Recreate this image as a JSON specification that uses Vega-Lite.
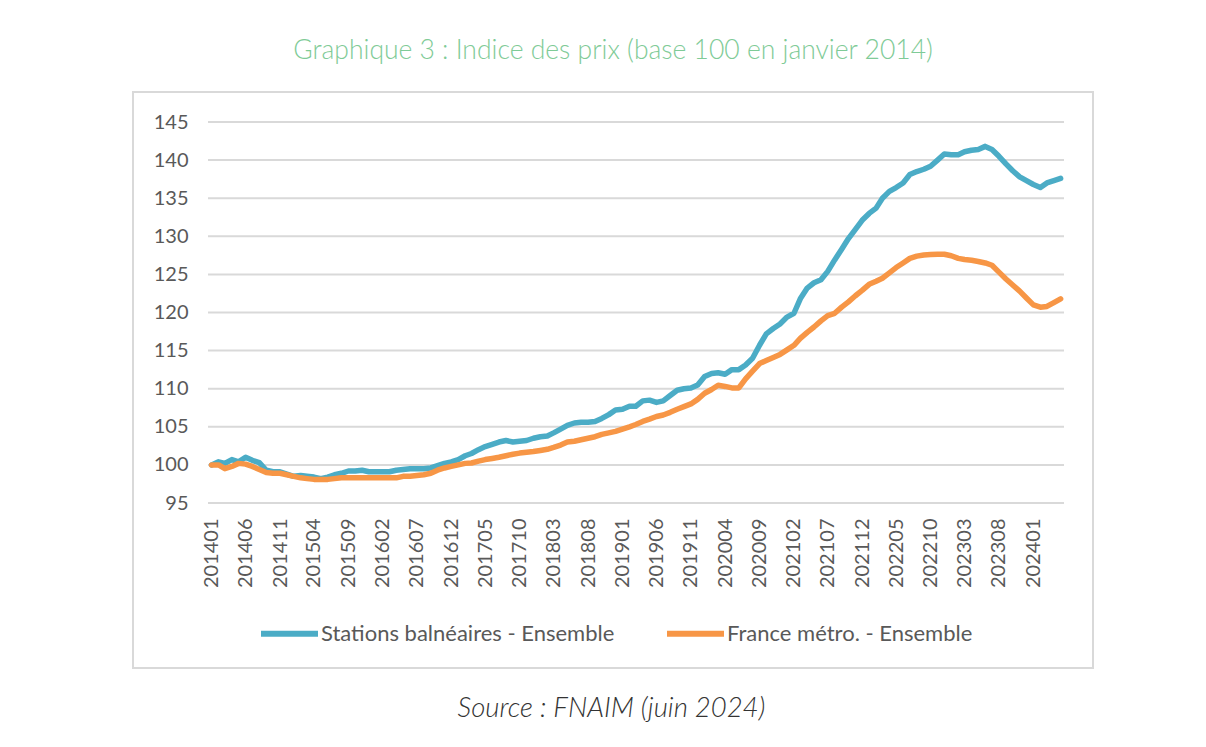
{
  "$schema": "https://vega.github.io/schema/vega-lite/v6.json",
  "autosize": {"type": "none"},
  "padding": {"left": 133, "top": 92, "right": 113, "bottom": 79},
  "width": 960,
  "height": 576,
  "background": "white",
  "config": {
    "view": {"stroke": "#d9d9d9", "strokeWidth": 2},
    "font": "Lato",
    "axis": {"labelOverlap": false}
  },
  "title": {
    "text": "Graphique 3 : Indice des prix (base 100 en janvier 2014)",
    "font": "Lato",
    "fontSize": 26.5,
    "fontWeight": 300,
    "color": "#7fcb97",
    "anchor": "middle",
    "frame": "group",
    "offset": 28
  },
  "layer": [
    {
      "data": {"values": [{"v": 95}, {"v": 100}, {"v": 105}, {"v": 110}, {"v": 115}, {"v": 120}, {"v": 125}, {"v": 130}, {"v": 135}, {"v": 140}, {"v": 145}]},
      "mark": {"type": "rule", "color": "#d9d9d9", "strokeWidth": 2},
      "encoding": {
        "y": {
          "field": "v",
          "type": "quantitative",
          "scale": {"domain": [95, 145], "range": [411, 30], "zero": false, "nice": false},
          "axis": {
            "values": [95, 100, 105, 110, 115, 120, 125, 130, 135, 140, 145],
            "tickCount": 50,
            "offset": -75,
            "domain": false,
            "ticks": false,
            "grid": false,
            "labelPadding": 20,
            "labelFont": "Lato",
            "labelFontSize": 20,
            "labelColor": "#595959",
            "labelOverlap": false,
            "labelFlush": false,
            "title": null
          }
        },
        "x": {
          "datum": {"year": 2013, "month": 12, "date": 16},
          "type": "temporal",
          "scale": {"domain": [{"year": 2013, "month": 12, "date": 16}, {"year": 2024, "month": 5, "date": 16}], "range": [75, 931], "nice": false}
        },
        "x2": {"datum": {"year": 2024, "month": 5, "date": 16}}
      }
    },
    {
      "data": {
        "format": {"parse": {"mois": "date:'%Y%m'"}},
        "values": [
          {"mois": "201401", "stations": 100.0, "france": 100.0},
          {"mois": "201402", "stations": 100.4, "france": 100.0},
          {"mois": "201403", "stations": 100.2, "france": 99.5},
          {"mois": "201404", "stations": 100.7, "france": 99.8},
          {"mois": "201405", "stations": 100.4, "france": 100.2},
          {"mois": "201406", "stations": 101.0, "france": 100.1},
          {"mois": "201407", "stations": 100.6, "france": 99.8},
          {"mois": "201408", "stations": 100.3, "france": 99.4},
          {"mois": "201409", "stations": 99.3, "france": 99.0},
          {"mois": "201410", "stations": 99.1, "france": 98.9},
          {"mois": "201411", "stations": 99.1, "france": 98.9},
          {"mois": "201412", "stations": 98.8, "france": 98.7},
          {"mois": "201501", "stations": 98.5, "france": 98.5},
          {"mois": "201502", "stations": 98.6, "france": 98.3},
          {"mois": "201503", "stations": 98.5, "france": 98.2},
          {"mois": "201504", "stations": 98.4, "france": 98.1},
          {"mois": "201505", "stations": 98.2, "france": 98.1},
          {"mois": "201506", "stations": 98.4, "france": 98.1},
          {"mois": "201507", "stations": 98.7, "france": 98.2},
          {"mois": "201508", "stations": 98.9, "france": 98.3},
          {"mois": "201509", "stations": 99.2, "france": 98.3},
          {"mois": "201510", "stations": 99.2, "france": 98.3},
          {"mois": "201511", "stations": 99.3, "france": 98.3},
          {"mois": "201512", "stations": 99.1, "france": 98.3},
          {"mois": "201601", "stations": 99.1, "france": 98.3},
          {"mois": "201602", "stations": 99.1, "france": 98.3},
          {"mois": "201603", "stations": 99.1, "france": 98.3},
          {"mois": "201604", "stations": 99.3, "france": 98.3},
          {"mois": "201605", "stations": 99.4, "france": 98.5},
          {"mois": "201606", "stations": 99.5, "france": 98.5},
          {"mois": "201607", "stations": 99.5, "france": 98.6},
          {"mois": "201608", "stations": 99.5, "france": 98.7},
          {"mois": "201609", "stations": 99.6, "france": 98.9},
          {"mois": "201610", "stations": 99.9, "france": 99.3},
          {"mois": "201611", "stations": 100.2, "france": 99.6},
          {"mois": "201612", "stations": 100.4, "france": 99.8},
          {"mois": "201701", "stations": 100.7, "france": 100.0},
          {"mois": "201702", "stations": 101.2, "france": 100.2},
          {"mois": "201703", "stations": 101.5, "france": 100.25},
          {"mois": "201704", "stations": 102.0, "france": 100.5},
          {"mois": "201705", "stations": 102.4, "france": 100.7},
          {"mois": "201706", "stations": 102.7, "france": 100.85},
          {"mois": "201707", "stations": 103.0, "france": 101.0},
          {"mois": "201708", "stations": 103.2, "france": 101.2},
          {"mois": "201709", "stations": 103.0, "france": 101.4},
          {"mois": "201710", "stations": 103.1, "france": 101.55},
          {"mois": "201711", "stations": 103.2, "france": 101.65},
          {"mois": "201712", "stations": 103.5, "france": 101.75},
          {"mois": "201801", "stations": 103.7, "france": 101.9},
          {"mois": "201802", "stations": 103.8, "france": 102.05},
          {"mois": "201803", "stations": 104.2, "france": 102.3},
          {"mois": "201804", "stations": 104.7, "france": 102.6},
          {"mois": "201805", "stations": 105.2, "france": 103.0},
          {"mois": "201806", "stations": 105.5, "france": 103.1},
          {"mois": "201807", "stations": 105.6, "france": 103.3},
          {"mois": "201808", "stations": 105.6, "france": 103.5},
          {"mois": "201809", "stations": 105.7, "france": 103.7},
          {"mois": "201810", "stations": 106.1, "france": 104.0},
          {"mois": "201811", "stations": 106.6, "france": 104.2},
          {"mois": "201812", "stations": 107.2, "france": 104.4},
          {"mois": "201901", "stations": 107.3, "france": 104.7},
          {"mois": "201902", "stations": 107.7, "france": 105.0},
          {"mois": "201903", "stations": 107.7, "france": 105.3},
          {"mois": "201904", "stations": 108.4, "france": 105.7},
          {"mois": "201905", "stations": 108.5, "france": 106.0},
          {"mois": "201906", "stations": 108.2, "france": 106.35},
          {"mois": "201907", "stations": 108.4, "france": 106.55},
          {"mois": "201908", "stations": 109.1, "france": 106.9},
          {"mois": "201909", "stations": 109.8, "france": 107.3},
          {"mois": "201910", "stations": 110.0, "france": 107.65},
          {"mois": "201911", "stations": 110.1, "france": 108.0},
          {"mois": "201912", "stations": 110.5, "france": 108.6},
          {"mois": "202001", "stations": 111.6, "france": 109.4},
          {"mois": "202002", "stations": 112.0, "france": 109.9},
          {"mois": "202003", "stations": 112.1, "france": 110.45},
          {"mois": "202004", "stations": 111.9, "france": 110.3},
          {"mois": "202005", "stations": 112.5, "france": 110.1},
          {"mois": "202006", "stations": 112.5, "france": 110.1},
          {"mois": "202007", "stations": 113.1, "france": 111.3},
          {"mois": "202008", "stations": 114.0, "france": 112.3},
          {"mois": "202009", "stations": 115.7, "france": 113.3},
          {"mois": "202010", "stations": 117.2, "france": 113.7},
          {"mois": "202011", "stations": 117.9, "france": 114.1},
          {"mois": "202012", "stations": 118.5, "france": 114.5},
          {"mois": "202101", "stations": 119.4, "france": 115.1},
          {"mois": "202102", "stations": 119.9, "france": 115.7},
          {"mois": "202103", "stations": 121.8, "france": 116.6},
          {"mois": "202104", "stations": 123.2, "france": 117.4},
          {"mois": "202105", "stations": 123.9, "france": 118.1},
          {"mois": "202106", "stations": 124.3, "france": 118.9},
          {"mois": "202107", "stations": 125.4, "france": 119.6},
          {"mois": "202108", "stations": 126.9, "france": 119.9},
          {"mois": "202109", "stations": 128.3, "france": 120.7},
          {"mois": "202110", "stations": 129.7, "france": 121.4},
          {"mois": "202111", "stations": 130.9, "france": 122.2},
          {"mois": "202112", "stations": 132.1, "france": 122.9},
          {"mois": "202201", "stations": 133.0, "france": 123.7},
          {"mois": "202202", "stations": 133.7, "france": 124.1},
          {"mois": "202203", "stations": 135.0, "france": 124.5},
          {"mois": "202204", "stations": 135.9, "france": 125.2},
          {"mois": "202205", "stations": 136.4, "france": 125.9},
          {"mois": "202206", "stations": 137.0, "france": 126.5},
          {"mois": "202207", "stations": 138.1, "france": 127.1},
          {"mois": "202208", "stations": 138.5, "france": 127.4},
          {"mois": "202209", "stations": 138.8, "france": 127.55},
          {"mois": "202210", "stations": 139.2, "france": 127.6},
          {"mois": "202211", "stations": 140.0, "france": 127.65},
          {"mois": "202212", "stations": 140.8, "france": 127.65},
          {"mois": "202301", "stations": 140.7, "france": 127.45},
          {"mois": "202302", "stations": 140.7, "france": 127.1},
          {"mois": "202303", "stations": 141.1, "france": 126.95},
          {"mois": "202304", "stations": 141.3, "france": 126.85},
          {"mois": "202305", "stations": 141.4, "france": 126.7},
          {"mois": "202306", "stations": 141.8, "france": 126.5},
          {"mois": "202307", "stations": 141.4, "france": 126.2},
          {"mois": "202308", "stations": 140.5, "france": 125.3},
          {"mois": "202309", "stations": 139.5, "france": 124.4},
          {"mois": "202310", "stations": 138.6, "france": 123.6},
          {"mois": "202311", "stations": 137.8, "france": 122.8},
          {"mois": "202312", "stations": 137.3, "france": 121.9},
          {"mois": "202401", "stations": 136.8, "france": 121.0},
          {"mois": "202402", "stations": 136.4, "france": 120.7},
          {"mois": "202403", "stations": 137.0, "france": 120.8},
          {"mois": "202404", "stations": 137.3, "france": 121.3},
          {"mois": "202405", "stations": 137.6, "france": 121.8}
        ]
      },
      "transform": [{"fold": ["stations", "france"], "as": ["serie", "indice"]}],
      "mark": {"type": "line", "strokeWidth": 5.5, "strokeCap": "round", "strokeJoin": "round"},
      "encoding": {
        "x": {
          "field": "mois",
          "type": "temporal",
          "axis": {
            "values": [
              {"year": 2014, "month": 1}, {"year": 2014, "month": 6}, {"year": 2014, "month": 11},
              {"year": 2015, "month": 4}, {"year": 2015, "month": 9}, {"year": 2016, "month": 2},
              {"year": 2016, "month": 7}, {"year": 2016, "month": 12}, {"year": 2017, "month": 5},
              {"year": 2017, "month": 10}, {"year": 2018, "month": 3}, {"year": 2018, "month": 8},
              {"year": 2019, "month": 1}, {"year": 2019, "month": 6}, {"year": 2019, "month": 11},
              {"year": 2020, "month": 4}, {"year": 2020, "month": 9}, {"year": 2021, "month": 2},
              {"year": 2021, "month": 7}, {"year": 2021, "month": 12}, {"year": 2022, "month": 5},
              {"year": 2022, "month": 10}, {"year": 2023, "month": 3}, {"year": 2023, "month": 8},
              {"year": 2024, "month": 1}
            ],
            "tickCount": 60,
            "format": "%Y%m",
            "offset": -165,
            "domain": false,
            "ticks": false,
            "grid": false,
            "labelAngle": -90,
            "labelAlign": "right",
            "labelBaseline": "middle",
            "labelPadding": 15,
            "labelFont": "Lato",
            "labelFontSize": 20,
            "labelColor": "#595959",
            "labelOverlap": false,
            "labelFlush": false,
            "title": "Source : FNAIM (juin 2024)",
            "titleFont": "Lato",
            "titleFontSize": 27.5,
            "titleFontWeight": 300,
            "titleFontStyle": "italic",
            "titleColor": "#333333",
            "titleX": 478,
            "titleY": 205,
            "titleAlign": "center",
            "titleBaseline": "middle"
          }
        },
        "y": {"field": "indice", "type": "quantitative"},
        "color": {
          "field": "serie",
          "type": "nominal",
          "scale": {"domain": ["stations", "france"], "range": ["#4bacc6", "#f79646"]},
          "legend": {
            "title": null,
            "orient": "none",
            "direction": "horizontal",
            "legendX": 125,
            "legendY": 510,
            "symbolType": "stroke",
            "symbolStrokeWidth": 6,
            "symbolSize": 3249,
            "labelFont": "Lato",
            "labelFontSize": 22,
            "labelLimit": 500,
            "labelColor": "#595959",
            "labelOffset": 0,
            "columnPadding": 40,
            "labelExpr": "datum.value == 'stations' ? 'Stations balnéaires - Ensemble' : 'France métro. - Ensemble'"
          }
        }
      }
    }
  ]
}
